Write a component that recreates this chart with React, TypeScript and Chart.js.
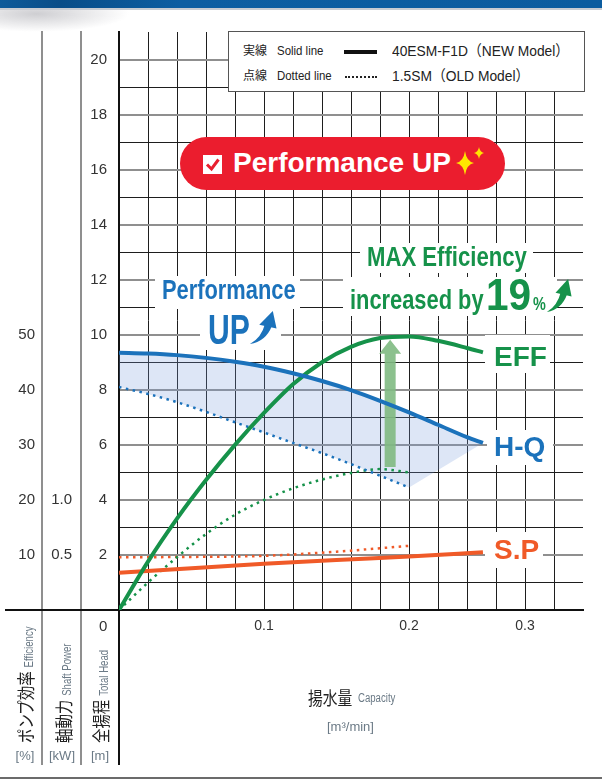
import React, { useEffect, useRef } from 'react';
import { Chart, registerables } from 'chart.js';
Chart.register(...registerables);

// ---- data ----
const flowNew = [0, 0.02, 0.04, 0.06, 0.08, 0.1, 0.12, 0.14, 0.16, 0.18, 0.2, 0.22, 0.24, 0.251];
const headNew = [9.35, 9.32, 9.26, 9.16, 9.02, 8.84, 8.6, 8.32, 7.99, 7.6, 7.18, 6.73, 6.28, 6.07];
const effNew = [0, 8.8, 16.6, 23.6, 30.0, 35.8, 41.0, 45.0, 47.8, 49.4, 49.7, 48.9, 47.6, 46.8];
const flowOld = [0, 0.02, 0.04, 0.06, 0.08, 0.1, 0.12, 0.14, 0.16, 0.18, 0.2];
const headOld = [8.1, 7.85, 7.55, 7.2, 6.82, 6.45, 6.07, 5.7, 5.3, 4.88, 4.45];
const effOld = [0, 5.0, 9.6, 13.8, 17.3, 20.0, 22.1, 23.7, 24.9, 25.6, 25.0];
const flowPowerNew = [0, 0.05, 0.1, 0.15, 0.2, 0.251];
const powerNew = [0.338, 0.38, 0.42, 0.455, 0.485, 0.525];
const flowPowerOld = [0, 0.05, 0.1, 0.15, 0.2];
const powerOld = [0.479, 0.482, 0.492, 0.53, 0.583];
const xTickLabels: Record<number, string> = { 10: '0.1', 20: '0.2', 28: '0.3' };
const effTickValues = [10, 20, 30, 40, 50];
const kwTickLabels: Record<number, string> = { 5: '0.5', 10: '1.0' };
const headTickValues = [2, 4, 6, 8, 10, 12, 14, 16, 18, 20];
const arrowFlow = 0.187;
const arrowEffFrom = 26;
const arrowEffTo = 49.1;

const SANS = '"Liberation Sans", Arial, "Noto Sans CJK JP", sans-serif';
const CJK = '"Noto Sans CJK JP", "Liberation Sans", sans-serif';
const BLUE = '#1b72bb';
const GREEN = '#16924a';
const ORANGE = '#f05a28';
const GRAYTXT = '#6b7a86';

function Txt(p: { x: number; y: number; size: number; scale?: number; color?: string; bold?: boolean; family?: string; children: any }) {
  return (
    <div
      style={{
        position: 'absolute',
        left: p.x,
        top: p.y,
        fontSize: p.size,
        lineHeight: p.size + 'px',
        fontFamily: p.family || SANS,
        fontWeight: p.bold ? 700 : 400,
        color: p.color || '#222',
        whiteSpace: 'nowrap',
        transform: p.scale && p.scale !== 1 ? `scaleX(${p.scale})` : undefined,
        transformOrigin: '0 0',
      }}
    >
      {p.children}
    </div>
  );
}

function Box(p: { x: number; y: number; w: number; h: number }) {
  return <div style={{ position: 'absolute', left: p.x, top: p.y, width: p.w, height: p.h, background: '#fff' }} />;
}

function RotLabel(p: { cx: number; bottom: number; big: string; small: string }) {
  const lh = 20;
  return (
    <div
      style={{
        position: 'absolute',
        left: p.cx - lh / 2,
        top: p.bottom,
        height: lh,
        lineHeight: lh + 'px',
        transformOrigin: '0 0',
        transform: 'rotate(-90deg)',
        whiteSpace: 'nowrap',
      }}
    >
      <span style={{ display: 'inline-block', transform: 'scaleX(0.8)', transformOrigin: '0 50%' }}>
        <span style={{ fontFamily: CJK, fontSize: 18, color: '#222' }}>{p.big}</span>
        <span style={{ fontFamily: SANS, fontSize: 12, color: GRAYTXT, marginLeft: 5 }}>{p.small}</span>
      </span>
    </div>
  );
}

function CurlArrow(p: { x: number; y: number; w: number; h: number; color: string }) {
  return (
    <svg style={{ position: 'absolute', left: p.x, top: p.y }} width={p.w} height={p.h} viewBox="0 0 30 37" preserveAspectRatio="none">
      <path d="M1 36 Q18 33.5 24.5 17 L17 15 Q13.5 29 1 36 Z" fill={p.color} />
      <polygon points="11,15.5 29.5,19.5 25.5,1" fill={p.color} />
    </svg>
  );
}

export default function App() {
  const ref = useRef<HTMLCanvasElement>(null);

  useEffect(() => {
    document.body.style.margin = '0';
    const canvas = ref.current!;
    const pts = (xs: number[], ys: number[]) => xs.map((x, i) => ({ x, y: ys[i] }));
    const lowerBound = [...pts(flowOld, headOld), { x: flowNew[flowNew.length - 1], y: headNew[headNew.length - 1] }];

    const decor = {
      id: 'decor',
      afterDatasetDraw(chart: any, args: any) {
        if (args.index !== 0) return;
        const ctx = chart.ctx;
        const xs = chart.scales.x;
        const ye = chart.scales.yEff;
        const cx = xs.getPixelForValue(arrowFlow);
        const yTop = ye.getPixelForValue(arrowEffTo);
        const yBot = ye.getPixelForValue(arrowEffFrom);
        const sw = 5.5, hw = 11, hl = 14;
        ctx.save();
        ctx.fillStyle = 'rgba(128,186,130,0.9)';
        ctx.beginPath();
        ctx.moveTo(cx, yTop);
        ctx.lineTo(cx + hw, yTop + hl);
        ctx.lineTo(cx + sw, yTop + hl);
        ctx.lineTo(cx + sw, yBot);
        ctx.lineTo(cx - sw, yBot);
        ctx.lineTo(cx - sw, yTop + hl);
        ctx.lineTo(cx - hw, yTop + hl);
        ctx.closePath();
        ctx.fill();
        ctx.restore();
      },
      afterDraw(chart: any) {
        const ctx = chart.ctx;
        const area = chart.chartArea;
        const bottom = chart.height - 15;
        ctx.save();
        ctx.lineWidth = 2;
        [['yEff', '#8f8f8f'], ['yKW', '#8f8f8f'], ['y', '#111']].forEach(([id, col]) => {
          const s = chart.scales[id];
          ctx.strokeStyle = col;
          ctx.beginPath();
          ctx.moveTo(s.right, area.bottom);
          ctx.lineTo(s.right, bottom);
          ctx.stroke();
        });
        ctx.strokeStyle = '#111';
        ctx.beginPath();
        ctx.moveTo(chart.scales.yEff.left, area.bottom);
        ctx.lineTo(area.left, area.bottom);
        ctx.stroke();
        ctx.restore();
      },
    };

    const tickFont = { family: '"Liberation Sans", Arial, sans-serif', size: 15 };
    const chart = new Chart(canvas, {
      type: 'line',
      data: {
        datasets: [
          { data: pts(flowNew, headNew), yAxisID: 'y', borderWidth: 0, borderColor: 'rgba(0,0,0,0)', backgroundColor: 'rgba(120,155,220,0.25)', fill: '+1', pointRadius: 0, order: 10, cubicInterpolationMode: 'monotone' },
          { data: lowerBound, yAxisID: 'y', borderWidth: 0, borderColor: 'rgba(0,0,0,0)', fill: false, pointRadius: 0, order: 11, tension: 0 },
          { data: pts(flowNew, headNew), yAxisID: 'y', borderColor: BLUE, borderWidth: 4, pointRadius: 0, fill: false, order: 1, cubicInterpolationMode: 'monotone' },
          { data: pts(flowOld, headOld), yAxisID: 'y', borderColor: BLUE, borderWidth: 2.5, borderDash: [2.5, 4.5], pointRadius: 0, fill: false, order: 2, cubicInterpolationMode: 'monotone' },
          { data: pts(flowNew, effNew), yAxisID: 'yEff', borderColor: GREEN, borderWidth: 4, pointRadius: 0, fill: false, order: 1, cubicInterpolationMode: 'monotone' },
          { data: pts(flowOld, effOld), yAxisID: 'yEff', borderColor: GREEN, borderWidth: 2.5, borderDash: [2.5, 4.5], pointRadius: 0, fill: false, order: 2, cubicInterpolationMode: 'monotone' },
          { data: pts(flowPowerNew, powerNew), yAxisID: 'yKW', borderColor: ORANGE, borderWidth: 4, pointRadius: 0, fill: false, order: 1, cubicInterpolationMode: 'monotone' },
          { data: pts(flowPowerOld, powerOld), yAxisID: 'yKW', borderColor: ORANGE, borderWidth: 2.5, borderDash: [2.5, 4.5], pointRadius: 0, fill: false, order: 2, cubicInterpolationMode: 'monotone' },
        ],
      },
      options: {
        responsive: false,
        animation: false,
        devicePixelRatio: 1,
        events: [],
        layout: { padding: { left: 5, right: 19, top: 32, bottom: 140 } },
        plugins: { legend: { display: false }, tooltip: { enabled: false } },
        scales: {
          x: {
            type: 'linear',
            min: 0,
            max: 0.32,
            afterFit: (s: any) => { s.height = 30; },
            ticks: {
              stepSize: 0.02,
              autoSkip: false,
              maxRotation: 0,
              padding: 8,
              color: '#333',
              font: { family: '"Liberation Sans", Arial, sans-serif', size: 14 },
              callback: (v: any) => xTickLabels[Math.round(Number(v) * 100)] ?? '',
            },
            grid: {
              drawTicks: false,
              lineWidth: 1,
              color: (c: any) => {
                const k = Math.round((c.tick?.value ?? 0) * 100);
                return k >= 2 && k <= 30 ? '#1e1e1e' : 'rgba(0,0,0,0)';
              },
            },
            border: { color: '#111', width: 2 },
          },
          y: {
            type: 'linear',
            position: 'left',
            weight: 0,
            min: 0,
            max: 21,
            afterFit: (s: any) => { s.width = 38; },
            ticks: {
              stepSize: 1,
              autoSkip: false,
              padding: 12,
              color: '#333',
              font: tickFont,
              callback: (v: any) => (headTickValues.includes(Number(v)) ? String(v) : ''),
            },
            grid: {
              drawTicks: false,
              color: (c: any) => {
                const v = c.tick?.value;
                if (v === 0 || v === 21) return 'rgba(0,0,0,0)';
                return v % 2 === 0 ? '#8f8f8f' : '#1e1e1e';
              },
              lineWidth: (c: any) => ((c.tick?.value ?? 1) % 2 === 0 ? 2 : 1),
            },
            border: { color: '#111', width: 2 },
          },
          yKW: {
            type: 'linear',
            position: 'left',
            weight: 1,
            min: 0,
            max: 5.25,
            afterFit: (s: any) => { s.width = 39; },
            ticks: {
              stepSize: 0.5,
              autoSkip: false,
              padding: 9,
              color: '#333',
              font: tickFont,
              callback: (v: any) => kwTickLabels[Math.round(Number(v) * 10)] ?? '',
            },
            grid: { display: false, drawTicks: false },
            border: { color: '#8f8f8f', width: 2 },
          },
          yEff: {
            type: 'linear',
            position: 'left',
            weight: 2,
            min: 0,
            max: 105,
            afterFit: (s: any) => { s.width = 37; },
            ticks: {
              stepSize: 10,
              autoSkip: false,
              padding: 7,
              color: '#333',
              font: tickFont,
              callback: (v: any) => (effTickValues.includes(Number(v)) ? String(v) : ''),
            },
            grid: { display: false, drawTicks: false },
            border: { color: '#8f8f8f', width: 2 },
          },
        },
      } as any,
      plugins: [decor as any],
    });
    return () => chart.destroy();
  }, []);

  return (
    <div style={{ position: 'relative', width: 602, height: 780, overflow: 'hidden', background: '#fff' }}>
      <canvas ref={ref} width={602} height={780} style={{ position: 'absolute', left: 0, top: 0, display: 'block' }} />

      {/* header band */}
      <div style={{ position: 'absolute', left: -40, top: 4, width: 170, height: 28, background: 'radial-gradient(ellipse at 45% 35%, rgba(190,190,195,0.75), rgba(255,255,255,0) 70%)' }} />
      <div style={{ position: 'absolute', left: 0, top: 0, width: 602, height: 8, background: 'linear-gradient(90deg,#0c5a9a 0%,#084d88 10%,#0d5ea2 30%,#0b5c9f 100%)' }} />
      <div style={{ position: 'absolute', left: 0, top: 8, width: 602, height: 1.5, background: '#c8ccd2' }} />
      <div style={{ position: 'absolute', left: 0, top: 777, width: 602, height: 2, background: '#6b6b6b' }} />

      {/* legend box */}
      <div style={{ position: 'absolute', left: 228, top: 31, width: 357, height: 61, border: '1.5px solid #555', background: '#fff', boxSizing: 'border-box' }} />
      <Txt x={243} y={44} size={12} family={CJK}>実線</Txt>
      <Txt x={277} y={43.6} size={13} scale={0.88}>Solid line</Txt>
      <div style={{ position: 'absolute', left: 344, top: 50, width: 33, height: 3.5, background: '#111' }} />
      <Txt x={392} y={42.6} size={15} scale={0.92}>40ESM-F1D（NEW Model）</Txt>
      <Txt x={243} y={69} size={12} family={CJK}>点線</Txt>
      <Txt x={277} y={68.6} size={13} scale={0.88}>Dotted line</Txt>
      <div style={{ position: 'absolute', left: 345, top: 75.5, width: 32, borderTop: '2px dotted #222' }} />
      <Txt x={392} y={67.6} size={15} scale={0.92}>1.5SM（OLD Model）</Txt>

      {/* Performance UP badge */}
      <div style={{ position: 'absolute', left: 180, top: 137, width: 325, height: 53, borderRadius: 27, background: '#eb1d2e' }} />
      <svg style={{ position: 'absolute', left: 203, top: 155 }} width={19} height={19} viewBox="0 0 19 19">
        <rect x={0} y={0} width={19} height={19} fill="#fff" />
        <polyline points="4,9.5 8.5,14 15.5,4.5" fill="none" stroke="#e8202f" strokeWidth={3} />
      </svg>
      <Txt x={233} y={149.3} size={28} bold color="#fff">Performance UP</Txt>
      <svg style={{ position: 'absolute', left: 450, top: 140 }} width={40} height={40} viewBox="0 0 40 40">
        <path d="M15 11 Q16.5 21.5 24 23 Q16.5 24.5 15 35 Q13.5 24.5 6 23 Q13.5 21.5 15 11 Z" fill="#ffe500" />
        <path d="M29 7 Q29.8 12.2 34 13 Q29.8 13.8 29 19 Q28.2 13.8 24 13 Q28.2 12.2 29 7 Z" fill="#ffe500" />
      </svg>

      {/* Performance UP (blue) */}
      <Box x={155} y={276} w={145} h={33} />
      <Box x={200} y={309} w={81} h={41} />
      <Txt x={162} y={276.3} size={28} bold scale={0.78} color={BLUE}>Performance</Txt>
      <Txt x={208} y={307.5} size={43} bold scale={0.7} color={BLUE}>UP</Txt>
      <CurlArrow x={249} y={310} w={28} h={35} color={BLUE} />

      {/* MAX Efficiency (green) */}
      <Box x={360} y={243} w={173} h={30} />
      <Box x={343} y={277} w={214} h={39} />
      <Txt x={367} y={243.3} size={28} bold scale={0.79} color={GREEN}>MAX Efficiency</Txt>
      <Txt x={350} y={286.3} size={28} bold scale={0.78} color={GREEN}>increased by</Txt>
      <Txt x={486} y={272} size={45} bold scale={0.9} color={GREEN}>19</Txt>
      <Txt x={533} y={294.8} size={18} bold scale={0.8} color={GREEN}>%</Txt>
      <CurlArrow x={546} y={278} w={26} h={35} color={GREEN} />

      {/* curve labels */}
      <Box x={485} y={335} w={65} h={38} />
      <Txt x={494} y={342.8} size={28} bold color={GREEN}>EFF</Txt>
      <Box x={487} y={430} w={66} h={35} />
      <Txt x={494} y={433.3} size={28} bold color={BLUE}>H-Q</Txt>
      <Box x={485} y={532} w={58} h={36} />
      <Txt x={494} y={536.3} size={28} bold color={ORANGE}>S.P</Txt>

      {/* left axis titles */}
      <RotLabel cx={25} bottom={743} big="ポンプ効率" small="Efficiency" />
      <RotLabel cx={63} bottom={743} big="軸動力" small="Shaft Power" />
      <RotLabel cx={100} bottom={743} big="全揚程" small="Total Head" />
      <div style={{ position: 'absolute', left: 5, top: 748.6, width: 40, textAlign: 'center', fontFamily: SANS, fontSize: 13, lineHeight: '13px', color: GRAYTXT }}>[%]</div>
      <div style={{ position: 'absolute', left: 42, top: 748.6, width: 40, textAlign: 'center', fontFamily: SANS, fontSize: 13, lineHeight: '13px', color: GRAYTXT }}>[kW]</div>
      <div style={{ position: 'absolute', left: 80, top: 748.6, width: 40, textAlign: 'center', fontFamily: SANS, fontSize: 13, lineHeight: '13px', color: GRAYTXT }}>[m]</div>
      <Txt x={99} y={618} size={15} color="#333">0</Txt>

      {/* x axis title */}
      <Txt x={308} y={688} size={18} scale={0.82} family={CJK}>揚水量</Txt>
      <Txt x={358} y={691.5} size={12} scale={0.8} color={GRAYTXT}>Capacity</Txt>
      <Txt x={327} y={719.6} size={13} color={GRAYTXT}>[m³/min]</Txt>
    </div>
  );
}
